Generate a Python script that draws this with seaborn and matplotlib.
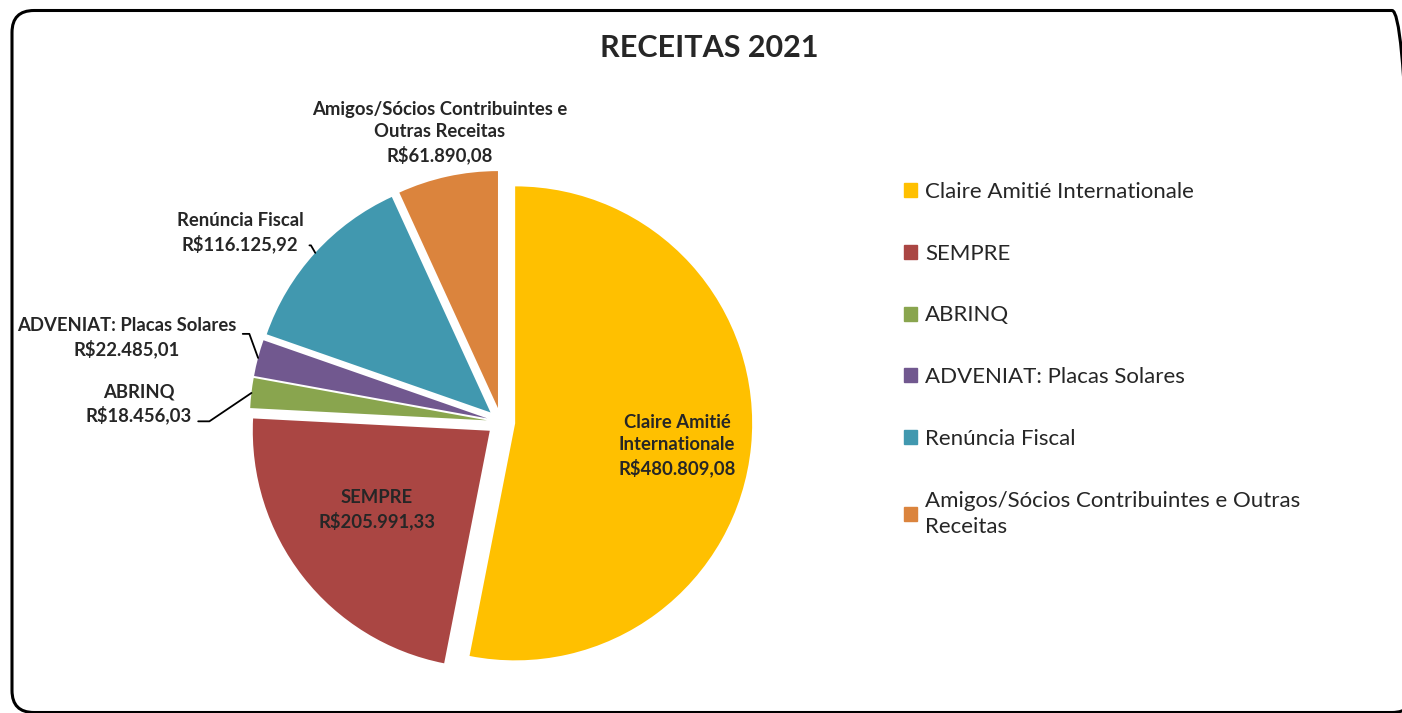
import numpy as np
import matplotlib
matplotlib.use("Agg")
import matplotlib.pyplot as plt
import matplotlib.patches as mpatches
from matplotlib.transforms import IdentityTransform
import seaborn as sns

# dados
categorias = ["Claire Amitié Internationale", "SEMPRE", "ABRINQ",
              "ADVENIAT: Placas Solares", "Renúncia Fiscal",
              "Amigos/Sócios Contribuintes e Outras Receitas"]
valores = [480809.08, 205991.33, 18456.03, 22485.01, 116125.92, 61890.08]
rotulos = ["Claire Amitié\nInternationale\nR$480.809,08",
           "SEMPRE\nR$205.991,33",
           "ABRINQ\nR$18.456,03",
           "ADVENIAT: Placas Solares\nR$22.485,01",
           "Renúncia Fiscal\nR$116.125,92",
           "Amigos/Sócios Contribuintes e\nOutras Receitas\nR$61.890,08"]
legenda = ["Claire Amitié Internationale", "SEMPRE", "ABRINQ",
           "ADVENIAT: Placas Solares", "Renúncia Fiscal",
           "Amigos/Sócios Contribuintes e Outras\nReceitas"]
cores = ["#FFC000", "#AA4643", "#89A54E", "#71588F", "#4198AF", "#DB843D"]

sns.set_theme(style="white")
plt.rcParams["font.family"] = ["Lato", "DejaVu Sans"]

W, H = 1402, 713
fig = plt.figure(figsize=(W / 100, H / 100), dpi=100)

# eixo em escala de pixels: centro da pizza em (501, 422), raio 237 px
cx, cy, R = 501, 422, 237
ax = fig.add_axes([0, 0, 1, 1])
palette = sns.color_palette(cores)
wedges, _ = ax.pie(valores, colors=palette, startangle=90, counterclock=False,
                   explode=[0.06] * len(valores), radius=1,
                   wedgeprops=dict(linewidth=0))
ax.set_xlim(-cx / R, (W - cx) / R)
ax.set_ylim(-(H - cy) / R, cy / R)
ax.set_axis_off()


def px(x, y):
    return ((x - cx) / R, (cy - y) / R)


fs = 13.3
ls = 1.35
# rótulos internos
ax.text(*px(677, 446), rotulos[0], ha="center", va="center", fontsize=fs,
        fontweight="bold", linespacing=ls)
ax.text(*px(377, 510), rotulos[1], ha="center", va="center", fontsize=fs,
        fontweight="bold", linespacing=ls)
ax.text(*px(440, 133), rotulos[5], ha="center", va="center", fontsize=fs,
        fontweight="bold", linespacing=ls)

# rótulos externos com linhas de chamada
externos = {
    4: (px(240, 233), (1, 0.2), "angle,angleA=0,angleB=120,rad=0"),
    3: (px(127, 338), (1, 0.6), "angle,angleA=0,angleB=110,rad=0"),
    2: (px(139, 404), (1, 0.08), "angle,angleA=0,angleB=34,rad=0"),
}
for i, (pos, rel, conn) in externos.items():
    w = wedges[i]
    ang = np.deg2rad((w.theta1 + w.theta2) / 2)
    xc, yc = w.center
    ponto = (xc + w.r * np.cos(ang), yc + w.r * np.sin(ang))
    ax.annotate(rotulos[i], xy=ponto, xytext=pos, ha="center", va="center",
                fontsize=fs, fontweight="bold", linespacing=ls,
                arrowprops=dict(arrowstyle="-", color="black", lw=1.3,
                                relpos=rel, shrinkA=2, shrinkB=0,
                                connectionstyle=conn))

fig.text(709 / W, 1 - 48 / H, "RECEITAS 2021", ha="center", va="center",
         fontsize=22, fontweight="bold")

handles = [mpatches.Patch(color=c, label=l) for c, l in zip(palette, legenda)]
leg = fig.legend(handles=handles, loc="upper left",
                 bbox_to_anchor=(895 / W, 1 - 173 / H), frameon=False,
                 fontsize=16, handlelength=0.6, handleheight=0.6,
                 handletextpad=0.35, labelspacing=1.88, borderaxespad=0)
for t in leg.get_texts():
    t.set_linespacing(1.4)

# moldura arredondada
moldura = mpatches.FancyBboxPatch((12, 0.5), 1402, 702,
                                  boxstyle="round,pad=0,rounding_size=22",
                                  transform=IdentityTransform(),
                                  facecolor="none", edgecolor="black",
                                  linewidth=2.2)
fig.patches.append(moldura)

fig.savefig("out.png", dpi=100)
